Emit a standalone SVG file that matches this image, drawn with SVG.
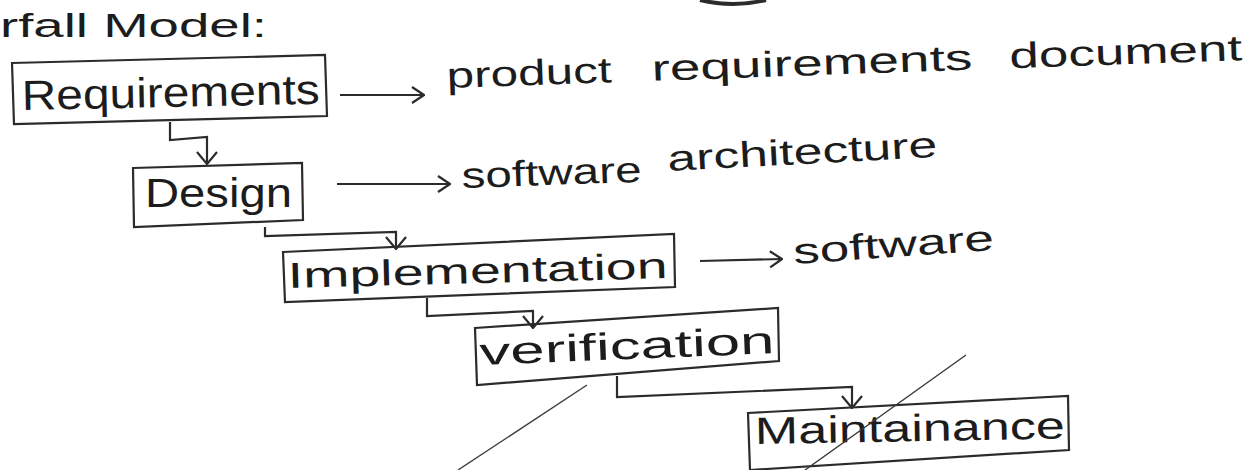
<svg xmlns="http://www.w3.org/2000/svg" width="1258" height="470" viewBox="0 0 1258 470">
  <style>
    .box { fill: none; stroke: #2b2b2b; stroke-width: 2.2; stroke-linejoin: miter; }
    .flow { fill: none; stroke: #2b2b2b; stroke-width: 2.2; marker-end: url(#chev); }
    .drop { fill: none; stroke: #2b2b2b; stroke-width: 2.2; marker-end: url(#vee); }
    .strike { fill: none; stroke: #3a3a3a; stroke-width: 1.4; }
    .hand { font-family: "Liberation Sans", "DejaVu Sans", sans-serif; fill: #1c1c1c; }
  </style>
  <defs>
    <marker id="chev" viewBox="0 0 14 20" refX="13" refY="10" markerWidth="14" markerHeight="20" markerUnits="userSpaceOnUse" orient="auto">
      <path d="M1,2 L13,10 L1,18" fill="none" stroke="#2b2b2b" stroke-width="2.2"/>
    </marker>
    <marker id="vee" viewBox="0 0 14 24" refX="13" refY="12" markerWidth="14" markerHeight="24" markerUnits="userSpaceOnUse" orient="auto">
      <path d="M1,2 L13,12 L1,22" fill="none" stroke="#2b2b2b" stroke-width="2.2"/>
    </marker>
  </defs>

  <rect width="1258" height="470" fill="#ffffff"/>

  <!-- ink mark at the top edge -->
  <path d="M700 0 Q 733 8 766 0" fill="none" stroke="#2b2b2b" stroke-width="4"/>

  <!-- heading -->
  <text class="hand" x="0" y="37" font-size="34" textLength="267" lengthAdjust="spacingAndGlyphs">rfall Model:</text>

  <!-- stages -->
  <g id="requirements">
    <polygon class="box" points="12,63 325,55 327,116 14,124"/>
    <text class="hand" x="22" y="110" font-size="42" textLength="298" lengthAdjust="spacingAndGlyphs" transform="rotate(-1.2 22 110)">Requirements</text>
  </g>
  <g id="design">
    <polygon class="box" points="133,168 302,163 303,220 134,227"/>
    <text class="hand" x="145" y="207" font-size="40" textLength="147" lengthAdjust="spacingAndGlyphs">Design</text>
  </g>
  <g id="implementation">
    <polygon class="box" points="283,252 674,234 675,287 285,302"/>
    <text class="hand" x="288" y="288" font-size="36" textLength="380" lengthAdjust="spacingAndGlyphs" transform="rotate(-1.5 288 288)">Implementation</text>
  </g>
  <g id="verification">
    <polygon class="box" points="475,328 778,308 779,361 477,385"/>
    <text class="hand" x="480" y="365" font-size="38" textLength="295" lengthAdjust="spacingAndGlyphs" transform="rotate(-2.3 480 365)">verification</text>
  </g>
  <g id="maintainance">
    <polygon class="box" points="748,413 1068,396 1069,450 750,470"/>
    <text class="hand" x="755" y="444" font-size="38" textLength="310" lengthAdjust="spacingAndGlyphs" transform="rotate(-1 755 444)">Maintainance</text>
  </g>

  <!-- outputs of each stage -->
  <g id="out-requirements">
    <text class="hand" x="447" y="88" font-size="36" transform="rotate(-2 447 88)"><tspan x="447" textLength="165" lengthAdjust="spacingAndGlyphs">product</tspan><tspan x="652" textLength="321" lengthAdjust="spacingAndGlyphs">requirements</tspan><tspan x="1010" textLength="233" lengthAdjust="spacingAndGlyphs">document</tspan></text>
  </g>
  <g id="out-design">
    <text class="hand" x="462" y="188" font-size="36" textLength="180" lengthAdjust="spacingAndGlyphs" transform="rotate(-2 462 188)">software</text>
    <text class="hand" x="668" y="171" font-size="36" textLength="270" lengthAdjust="spacingAndGlyphs" transform="rotate(-3 668 171)">architecture</text>
  </g>
  <g id="out-implementation">
    <text class="hand" x="794" y="264" font-size="36" textLength="201" lengthAdjust="spacingAndGlyphs" transform="rotate(-4 794 264)">software</text>
  </g>

  <!-- connectors -->
  <g id="connectors">
    <path class="flow" d="M340 95 L424 95"/>
    <path class="flow" d="M337 184 L450 184"/>
    <path class="flow" d="M700 261 L782 259"/>
    <path class="drop" d="M170 122 L170 140 L207 137 L207 164"/>
    <path class="drop" d="M265 227 L265 236 L396 232 L396 249"/>
    <path class="drop" d="M427 298 L427 316 L533 311 L533 328"/>
    <path class="drop" d="M617 376 L617 397 L852 387 L852 408"/>
  </g>

  <!-- pencil strokes across the lower part -->
  <path class="strike" d="M458 470 L587 385"/>
  <path class="strike" d="M805 470 L966 355"/>
</svg>
